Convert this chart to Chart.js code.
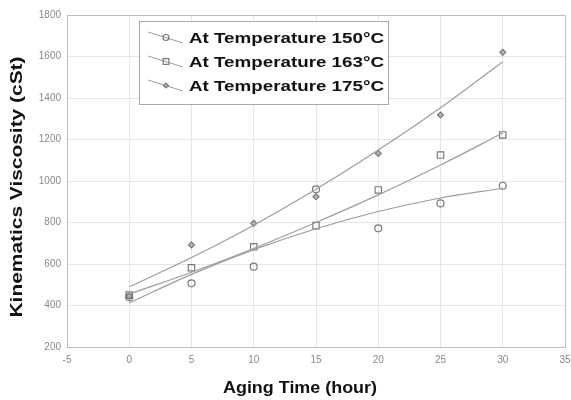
<!DOCTYPE html>
<html>
<head>
<meta charset="utf-8">
<script src="https://cdn.jsdelivr.net/npm/chart.js@4"></script>
<style>
  html, body { margin: 0; padding: 0; background: #fff; }
  canvas { display: block; }
</style>
</head>
<body>
<canvas id="viscChart" width="571" height="400"></canvas>
<script>
const hours = [0, 5, 10, 15, 20, 25, 30];
const visc150 = [440, 507, 587, 960, 772, 892, 977];
const visc163 = [450, 582, 683, 785, 957, 1125, 1222];
const visc175 = [445, 692, 796, 925, 1133, 1318, 1620];

// trend curves, read at the same hours
const fit150 = [412, 550, 669, 770, 853, 918, 965];
const fit163 = [455, 560, 675, 800, 933, 1077, 1231];
const fit175 = [490, 631, 787, 960, 1149, 1353, 1575];

const xTicks = [-5, 0, 5, 10, 15, 20, 25, 30, 35];
const yTicks = [200, 400, 600, 800, 1000, 1200, 1400, 1600, 1800];

const seriesLabels = ['At Temperature 150°C', 'At Temperature 163°C', 'At Temperature 175°C'];
const pointStyles = ['circle', 'rect', 'rectRot'];
const pointFills = ['rgba(0,0,0,0)', 'rgba(0,0,0,0)', '#b4b4b4'];
const pointRadii = [3.5, 4.5, 3];

const FONT = '"Liberation Sans", Arial, sans-serif';
const toXY = vals => hours.map((h, i) => ({ x: h, y: vals[i] }));

function trendSet(vals) {
    return {
        data: toXY(vals),
        showLine: true,
        borderColor: '#9c9c9c',
        borderWidth: 1.2,
        pointRadius: 0,
        tension: 0.4
    };
}

function pointSet(vals, i) {
    return {
        label: seriesLabels[i],
        data: toXY(vals),
        showLine: false,
        pointStyle: pointStyles[i],
        pointRadius: pointRadii[i],
        pointBorderWidth: 1.2,
        pointBorderColor: '#7a7a7a',
        pointBackgroundColor: pointFills[i]
    };
}

// draw text squeezed/stretched to a given width (the scan's lettering is wide)
function drawWide(ctx, text, x, y, width, font, angle) {
    ctx.save();
    ctx.font = font;
    const w = ctx.measureText(text).width;
    ctx.translate(x, y);
    if (angle) ctx.rotate(angle);
    ctx.scale(width / w, 1);
    ctx.textAlign = 'center';
    ctx.textBaseline = 'middle';
    ctx.fillText(text, 0, 0);
    ctx.restore();
}

const overlay = {
    id: 'overlay',
    afterDraw(chart) {
        const ctx = chart.ctx;
        ctx.save();

        // legend box
        ctx.fillStyle = '#fff';
        ctx.fillRect(139, 21, 249, 83);
        ctx.strokeStyle = '#a8a8a8';
        ctx.lineWidth = 1;
        ctx.strokeRect(139.5, 21.5, 249, 83);

        const rows = [39, 63, 87];
        rows.forEach((cy, i) => {
            ctx.strokeStyle = '#9c9c9c';
            ctx.lineWidth = 1;
            ctx.beginPath();
            ctx.moveTo(148, cy - 7);
            ctx.lineTo(183, cy + 4);
            ctx.stroke();

            ctx.strokeStyle = '#7a7a7a';
            ctx.fillStyle = pointFills[i];
            ctx.lineWidth = 1.2;
            Chart.helpers.drawPoint(ctx, {
                pointStyle: pointStyles[i],
                radius: pointRadii[i] - 0.5,
                rotation: 0,
                borderWidth: 1.2
            }, 166, cy - 1.5);

            ctx.fillStyle = '#111';
            drawWide(ctx, seriesLabels[i], 189 + 195 / 2, cy, 195, 'bold 15px ' + FONT);
        });

        // axis titles
        ctx.fillStyle = '#111';
        drawWide(ctx, 'Aging Time (hour)', 300, 388, 154, 'bold 17px ' + FONT);
        drawWide(ctx, 'Kinematics Viscosity (cSt)', 18, 187, 261, 'bold 16px ' + FONT, -Math.PI / 2);

        ctx.restore();
    }
};

const gridColor = ctx => {
    const v = ctx.tick && ctx.tick.value;
    return (v === 35 || v === 1800) ? '#bdbdbd' : '#e6e6e6';
};

new Chart(document.getElementById('viscChart'), {
    type: 'scatter',
    data: {
        datasets: [
            trendSet(fit150), trendSet(fit163), trendSet(fit175),
            pointSet(visc150, 0), pointSet(visc163, 1), pointSet(visc175, 2)
        ]
    },
    options: {
        responsive: false,
        animation: false,
        layout: { padding: { top: 15, right: 0, left: 0, bottom: 0 } },
        plugins: {
            legend: { display: false },
            tooltip: { enabled: false }
        },
        scales: {
            x: {
                type: 'linear',
                min: -5,
                max: 35,
                afterBuildTicks: s => { s.ticks = xTicks.map(v => ({ value: v })); },
                afterFit: s => { s.height = 53; s.paddingLeft = 0; s.paddingRight = 6; },
                grid: { color: gridColor, drawTicks: false },
                border: { color: '#bdbdbd' },
                ticks: { color: '#888', font: { family: FONT, size: 10 }, padding: 7, callback: v => String(v) }
            },
            y: {
                min: 200,
                max: 1800,
                afterBuildTicks: s => { s.ticks = yTicks.map(v => ({ value: v })); },
                afterFit: s => { s.width = 67; s.paddingTop = 0; s.paddingBottom = 0; },
                grid: { color: gridColor, drawTicks: false },
                border: { color: '#bdbdbd' },
                ticks: { color: '#888', font: { family: FONT, size: 10 }, padding: 6, callback: v => String(v) }
            }
        }
    },
    plugins: [overlay]
});
</script>
</body>
</html>
